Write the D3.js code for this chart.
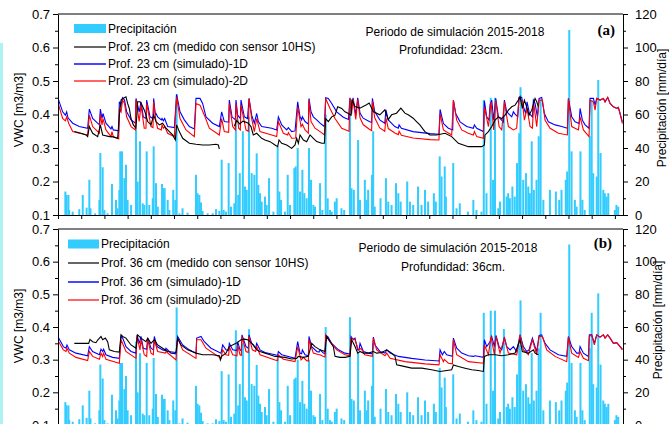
<!DOCTYPE html>
<html><head><meta charset="utf-8">
<script src="https://cdn.jsdelivr.net/npm/d3@7"></script>
<style>body{margin:0;background:#fff}svg{display:block;font-family:"Liberation Sans",Arial,sans-serif}</style>
</head><body><svg id="c" width="669" height="424"></svg>
<script>
// ---------- DATA (day index from start of 2015, values) ----------
const vwcTicks = [0.1,0.2,0.3,0.4,0.5,0.6,0.7];
const precipTicks = [0,20,40,60,80,100,120];
const dayTicks = d3.range(0, 1441, 60);

const precip = [[19,14],[22,12],[27,12],[29,3],[38,2],[55,3.5],[64,12],[74,4.4],[81,21],[84,4],[96,1],[107,9],[109.5,37],[115.5,28.5],[120,3],[128,1],[139.6,18.5],[150,9],[154,4],[158.6,15],[161,38],[165.5,38],[171.5,22],[175.8,30],[180,9],[189,6],[201.7,51],[206,20],[212,44],[219,7],[223,6],[229.3,38],[236,6],[245,10],[247.4,41],[253.4,19],[258,5],[269,18.5],[272.4,16],[275.8,16],[283.6,9],[288,3],[298,15],[303.4,9],[306.8,72],[314,1],[322,4],[335,1.4],[356.8,24],[361,13],[365.5,12],[369.8,7.5],[374,2.4],[387,1],[400,1],[408.6,3.5],[417.2,2.4],[423.2,33],[428.4,3],[434.4,2],[441.3,31],[447.3,5],[456,7],[460,58],[466,12],[470,25],[478,50],[483.6,17],[488,15],[494,58.7],[500.8,25],[507.7,24],[513.8,36.8],[518,18],[522.4,13],[526.7,8],[535.3,11],[539.6,6],[545.7,22],[557,2],[568,40.8],[572.4,14],[576.7,9],[587,2],[594,24],[600,6],[611.2,28],[614.6,29],[619.8,40],[625.8,14],[631.9,27],[637,13],[643,10],[649,40],[654.3,21],[660.3,6],[664.6,5],[677.6,19],[683.6,3],[692.2,60],[697.4,10],[703.4,3],[708,2],[716,8],[720.6,10],[733,4],[740,3],[755,66],[759,16],[765,15],[776,44.8],[781,9],[793.5,21],[798,9],[802,15],[812,24],[815,50],[819,5],[834,10],[848,22],[854,8],[862.5,6],[874,19],[880,13],[886,8],[903,20],[910,8],[918.5,6],[931,17],[940,6],[949,15],[957,8],[972,13],[977,8],[987,35],[991.8,23],[1000,29],[1003,11],[1022,31],[1030.6,4],[1039,7],[1060,2],[1074,9],[1082,3],[1095,2],[1101,68.7],[1108,13],[1119,70],[1125,21],[1130,70],[1138.5,4],[1143,8],[1153,58.8],[1160,11],[1164,13],[1168.5,10],[1175,17],[1181,11],[1187,31],[1192.6,48.8],[1196,76.3],[1203,21],[1210,25],[1216,17],[1220,13],[1225,44],[1230.5,15],[1237.4,21],[1243,47],[1248,68.7],[1255,9],[1272,15],[1287.4,14],[1296,9],[1302,15],[1313,21],[1316.7,26],[1322,110.5],[1328,38],[1336.6,9],[1341,5],[1351,38],[1356,9],[1362,3],[1375,47],[1380,68.7],[1384,25],[1393,23],[1397,80.6],[1403,37],[1410,15],[1414,13],[1418.5,11],[1423,13],[1440,3],[1444,6],[1448.6,5]];

// Depth 23 cm
const sim23_1D = [[1.7,.443],[12,.408],[19,.398],[22.4,.408],[25.8,.390],[38,.374],[55,.364],[76.7,.359],[81,.416],[89.6,.388],[107,.369],[109.5,.416],[113.8,.388],[116.3,.403],[124,.374],[137,.357],[139.6,.364],[143,.354],[157,.351],[158.6,.438],[163,.428],[167,.450],[172,.443],[177.5,.408],[189,.384],[200,.374],[201.7,.448],[210,.408],[214.6,.438],[220.6,.393],[227.5,.388],[229.3,.443],[238,.393],[245.6,.388],[247.4,.448],[251.7,.398],[253.4,.403],[257.7,.393],[267.2,.384],[269,.388],[272.4,.381],[275.8,.388],[283.6,.364],[300.8,.361],[306.8,.460],[315.5,.408],[326.7,.384],[339.6,.364],[352.5,.357],[356.8,.448],[367.2,.448],[374,.433],[382.7,.393],[400,.374],[417.2,.364],[423.2,.408],[430,.379],[441.3,.377],[443,.443],[450,.393],[458.6,.384],[460.3,.443],[464.6,.398],[471.5,.388],[473.2,.443],[481.8,.393],[490,.388],[494,.448],[500.8,.398],[507.7,.374],[513.8,.403],[518,.379],[526.7,.364],[552.6,.359],[565.5,.354],[569.8,.393],[578.4,.369],[591.4,.354],[595.7,.361],[604.3,.349],[613,.351],[619.8,.438],[625.8,.393],[630,.384],[631.9,.393],[638.8,.379],[647.4,.371],[649,.448],[654.3,.408],[660.3,.393],[669,.384],[677.6,.374],[688.8,.364],[692.2,.450],[699,.448],[707.7,.433],[720.6,.408],[737.9,.392],[751,.385],[755,.450],[759,.414],[763,.450],[770,.399],[775,.450],[781,.404],[789,.389],[805,.379],[811,.376],[813,.448],[819,.409],[832,.384],[845,.374],[848,.414],[854,.384],[871,.364],[880,.359],[882,.369],[888,.359],[918,.349],[962,.343],[985,.341],[988,.415],[996.6,.373],[1009.5,.359],[1020.7,.354],[1022.4,.443],[1028.4,.403],[1039.7,.378],[1056.9,.364],[1074,.359],[1076.7,.369],[1082.8,.359],[1100,.349],[1102.6,.441],[1108.6,.393],[1114.6,.383],[1117.2,.428],[1121.5,.443],[1126.7,.383],[1131.9,.448],[1138.8,.393],[1151.7,.378],[1154.3,.443],[1160.3,.408],[1173.3,.393],[1177.6,.408],[1181.9,.401],[1188.8,.393],[1192.2,.451],[1199,.451],[1203.4,.423],[1209.5,.403],[1212.9,.438],[1219,.403],[1226.7,.393],[1229.3,.443],[1233.6,.433],[1239.6,.393],[1244,.448],[1250.8,.451],[1257.7,.403],[1268,.378],[1285.3,.369],[1302.6,.364],[1317.2,.359],[1319.8,.448],[1328.4,.393],[1337,.378],[1347.4,.373],[1350,.418],[1356,.383],[1363,.369],[1373.2,.359],[1375.8,.448],[1384.5,.448],[1388.8,.428],[1393,.448],[1401.7,.443],[1410.3,.448],[1414.6,.438],[1421.5,.451],[1427.6,.433],[1436.2,.423],[1444.8,.418],[1449,.421],[1453.4,.403],[1459.4,.378]];

const sim23_2D = [[1.7,.428],[12,.388],[19,.381],[22.4,.393],[27.5,.374],[38,.349],[55,.344],[76.7,.339],[81,.398],[89.6,.364],[107,.344],[109.5,.403],[113.8,.369],[116.3,.388],[124,.354],[137,.334],[139.6,.349],[143,.334],[157,.327],[158.6,.418],[163,.408],[167,.443],[172,.433],[177.5,.393],[189,.364],[200,.354],[201.7,.443],[210,.379],[214.6,.428],[223,.359],[227.5,.359],[229.3,.433],[240.5,.364],[245.6,.361],[247.4,.438],[253.4,.379],[257.7,.359],[267.2,.354],[269,.369],[272.4,.359],[275.8,.364],[283.6,.344],[300.8,.334],[306.8,.453],[315.5,.388],[331,.354],[352.5,.334],[356.8,.433],[367.2,.428],[378.4,.398],[391.3,.359],[417.2,.339],[423.2,.388],[430,.349],[441.3,.347],[443,.433],[451.7,.364],[458.6,.354],[460.3,.433],[467.2,.359],[471.5,.354],[473.2,.428],[486,.354],[492,.350],[494,.448],[500.8,.388],[507.7,.349],[513.8,.388],[522.4,.349],[552.6,.339],[565.5,.334],[569.8,.379],[582.7,.344],[594,.339],[595.7,.346],[604.3,.329],[614.6,.330],[619.8,.423],[628.4,.364],[631.9,.371],[638.8,.354],[647.4,.344],[649,.443],[654.3,.379],[664.6,.359],[677.6,.349],[688.8,.339],[692.2,.448],[703.4,.418],[716.3,.388],[733.6,.359],[752.5,.350],[755,.448],[759,.400],[763,.445],[770,.385],[775,.445],[781,.390],[789,.370],[805,.356],[811,.352],[813,.440],[819,.390],[832,.360],[845,.350],[848,.390],[854,.358],[871,.345],[880,.340],[882,.350],[888,.338],[918,.330],[962,.325],[985,.324],[988,.403],[996.6,.354],[1018,.339],[1022.4,.443],[1031,.383],[1044,.354],[1061,.344],[1074,.339],[1076.7,.349],[1082.8,.334],[1100,.329],[1102.6,.423],[1113,.364],[1119.8,.438],[1126.7,.354],[1131.9,.443],[1140.5,.364],[1147.4,.354],[1154.3,.438],[1164.6,.364],[1177.6,.354],[1186,.359],[1192.2,.448],[1200.8,.438],[1206,.383],[1212.9,.418],[1220.7,.364],[1226.7,.359],[1230.2,.433],[1237.9,.364],[1244,.443],[1252.6,.443],[1259.5,.383],[1272.4,.359],[1294,.344],[1317.2,.339],[1319.8,.448],[1328.4,.364],[1345.7,.354],[1350,.393],[1358.6,.354],[1373.2,.334],[1375.8,.443],[1384.5,.438],[1388.8,.413],[1393,.448],[1401.7,.443],[1410.3,.448],[1414.6,.438],[1421.5,.451],[1427.6,.433],[1436.2,.423],[1444.8,.418],[1449,.421],[1453.4,.403],[1459.4,.373]];

const meas23 = [[42.2,.349],[59.5,.344],[72.4,.339],[76.7,.334],[81,.364],[89.6,.344],[102.6,.334],[109.5,.369],[115.5,.339],[132.7,.334],[139.6,.334],[154.3,.329],[158.6,.398],[163,.443],[167.2,.448],[171.5,.450],[175.8,.453],[180,.433],[184.4,.418],[188.8,.388],[194.8,.369],[201.7,.359],[206,.438],[212,.438],[217.2,.428],[223.2,.413],[227.5,.398],[231.9,.379],[240.5,.369],[247.4,.398],[253.4,.379],[262,.369],[270.6,.374],[279.3,.359],[287.9,.349],[296.5,.339],[303.4,.324],[306.8,.369],[313.7,.349],[322.4,.329],[339.6,.314],[356.8,.311],[374,.309],[391.3,.309],[408.6,.311],[414.6,.309],[417.2,.297],null,[456,.365],[462,.382],[470,.372],[478,.380],[483.6,.378],[492.2,.374],[499,.364],[505,.339],[513.8,.344],[526.7,.329],[535.3,.324],[548.3,.319],[561.2,.309],[568,.304],[571.5,.324],[578.4,.314],[591.4,.309],[604.3,.299],[613,.309],[617.2,.329],[621.5,.314],[625.8,.339],[634.5,.324],[643,.319],[651.7,.339],[660.3,.329],[669,.319],[681.9,.314],[688.8,.314],[692.2,.388],[699,.379],[707.7,.393],[716.3,.398],[723.2,.423],[733.6,.418],[742.2,.408],[750.8,.403],[757.7,.398],[760,.445],[767.7,.424],[780.6,.419],[797.8,.429],[804.7,.434],[815,.409],[832.3,.399],[845.2,.414],[853.9,.384],[862.5,.399],[875.4,.404],[886.6,.419],[897,.404],[905.6,.399],[918.5,.389],[927.1,.379],[935.7,.369],[948.7,.349],[961.6,.339],[978.8,.339],[1000.9,.344],[1018,.334],[1035.3,.314],[1048.3,.309],[1061.2,.304],[1078.4,.304],[1095.7,.304],[1102.6,.309],[1104.3,.339],[1113,.349],[1121.5,.364],[1130.2,.383],[1138.8,.393],[1147.4,.388],[1156,.398],[1164.6,.413],[1173.3,.423],[1181.9,.428],[1190.5,.443],[1194.8,.453],[1200.8,.418],[1206,.443],[1212,.423],[1218,.398],[1225,.413],[1233.6,.448],[1238,.438],[1242.2,.423]];

// Depth 36 cm
const sim36_1D = [[1.7,.366],[13.8,.340],[20.7,.335],[23.2,.345],[29.3,.330],[46.5,.320],[76.7,.312],[81,.340],[89.6,.325],[107,.315],[111.2,.332],[115.5,.325],[118,.332],[124,.315],[141.3,.307],[158.6,.304],[163,.371],[167.2,.366],[175.8,.340],[188.8,.325],[201.7,.320],[204.3,.376],[210.3,.350],[214.6,.371],[220.6,.335],[229.3,.332],[231.9,.366],[240.5,.335],[246.5,.330],[249.1,.371],[256,.340],[270.6,.330],[277.5,.328],[279.3,.335],[292.2,.320],[305.1,.318],[309.4,.371],[322.4,.345],[339.6,.330],[356.8,.320],[358.6,.366],[369.8,.371],[378.4,.355],[395.6,.335],[421.5,.320],[425.8,.345],[434.4,.330],[441.3,.328],[443,.350],[451.7,.330],[462.9,.328],[464.6,.355],[470.6,.330],[474,.328],[475.8,.376],[486.1,.340],[492.2,.335],[494,.376],[500.8,.350],[511.2,.335],[513.8,.350],[522.4,.330],[535.3,.322],[561.2,.315],[568,.313],[569.8,.325],[578.4,.315],[613,.304],[619.8,.355],[625.8,.320],[630,.318],[631.9,.330],[638.8,.315],[647.4,.312],[649,.371],[656,.340],[669,.325],[675,.323],[677.6,.330],[686.2,.320],[690.5,.318],[692.2,.373],[697.4,.371],[707.7,.350],[725,.330],[742.2,.320],[755.1,.317],[757.7,.371],[763.8,.361],[768,.366],[775,.330],[778.4,.330],[781,.350],[789.6,.325],[802.5,.320],[812.9,.318],[815.5,.369],[819.8,.345],[832.7,.325],[845.6,.320],[850,.330],[858.6,.320],[880.1,.310],[914.6,.304],[949,.299],[985.3,.296],[988,.330],[994,.315],[999,.325],[1005,.315],[1019.8,.310],[1022.4,.366],[1031,.335],[1044,.320],[1061.2,.312],[1074,.310],[1078.4,.312],[1100,.307],[1102.6,.361],[1108.6,.340],[1117.2,.355],[1121.5,.371],[1128.4,.340],[1132.7,.374],[1140.5,.340],[1147.4,.330],[1154.3,.369],[1160.3,.340],[1169,.330],[1177.6,.340],[1186.2,.325],[1194.8,.376],[1203.4,.340],[1212,.325],[1218,.330],[1226.7,.366],[1233.6,.340],[1237.9,.325],[1244,.374],[1250.8,.376],[1259.5,.350],[1272.4,.330],[1294,.315],[1315.5,.310],[1319.8,.371],[1328.4,.340],[1341.4,.320],[1347.4,.320],[1350,.340],[1358.6,.320],[1371.5,.310],[1374,.376],[1380,.376],[1387,.350],[1393,.376],[1401.7,.369],[1410.3,.376],[1414.6,.366],[1421.5,.376],[1427.6,.366],[1436.2,.350],[1444.8,.352],[1453.4,.340],[1459.4,.332]];

const sim36_2D = [[1.7,.355],[13.8,.330],[20.7,.325],[23.2,.335],[29.3,.320],[46.5,.307],[76.7,.297],[81,.325],[89.6,.310],[107,.301],[111.2,.320],[115.5,.310],[118,.320],[124,.301],[158.6,.289],[163,.361],[175.8,.325],[201.7,.304],[204.3,.371],[212,.330],[214.6,.361],[223,.315],[229.3,.310],[231.9,.361],[240.5,.320],[246.5,.315],[249.1,.361],[257.7,.325],[277.5,.320],[279.3,.325],[305.1,.299],[309.4,.366],[322.4,.330],[356.8,.304],[358.6,.361],[369.8,.361],[382.7,.335],[421.5,.304],[425.8,.330],[434.4,.315],[441.3,.313],[443,.340],[451.7,.315],[462.9,.312],[464.6,.345],[470.6,.315],[474,.313],[475.8,.371],[486.1,.325],[492,.322],[494,.371],[502.5,.330],[511,.325],[513.8,.340],[522.4,.315],[561.2,.299],[568,.297],[569.8,.315],[582.7,.301],[613,.294],[619.8,.340],[628.4,.299],[630,.301],[634.5,.307],[643,.297],[647.4,.296],[649,.361],[660.3,.320],[675,.315],[677.6,.315],[686.2,.310],[690.5,.308],[692.2,.376],[703.4,.355],[720.6,.330],[742.2,.315],[755.1,.312],[757.7,.366],[768,.361],[776.7,.330],[778.4,.330],[783.6,.335],[793,.315],[812.9,.310],[815.5,.366],[824,.330],[845.6,.312],[850,.320],[858.6,.304],[897.4,.294],[949,.287],[985.3,.284],[988,.315],[996.6,.294],[999,.301],[1009.5,.289],[1019.8,.287],[1022.4,.361],[1031,.315],[1061.2,.294],[1100,.289],[1102.6,.345],[1113,.315],[1119.8,.371],[1128.4,.315],[1132.7,.371],[1143,.320],[1154.3,.366],[1164.6,.320],[1186.2,.315],[1194.8,.376],[1203.4,.330],[1216.4,.315],[1226.7,.361],[1237.9,.315],[1244,.371],[1252.6,.371],[1263.8,.330],[1285.3,.310],[1315.5,.294],[1319.8,.369],[1328.4,.320],[1345.7,.307],[1350,.325],[1358.6,.304],[1371.5,.297],[1374,.371],[1380,.376],[1387,.345],[1393,.376],[1401.7,.369],[1410.3,.376],[1414.6,.366],[1421.5,.376],[1427.6,.366],[1436.2,.350],[1444.8,.352],[1453.4,.340],[1459.4,.330]];

const meas36 = [[42.2,.350],[63.8,.350],[79.3,.350],[82.7,.362],[89.6,.355],[98.2,.352],[102.6,.360],[111.2,.371],[115.5,.361],[122.4,.366],[128.4,.355],[132.7,.330],[145.7,.325],[158.6,.323],[163,.376],[167.2,.371],[175.8,.366],[188.8,.345],[201.7,.335],[206,.376],[214.6,.366],[227.5,.355],[231.9,.366],[240.5,.350],[249.1,.361],[257.7,.345],[270.6,.335],[283.6,.325],[305.1,.322],[309.4,.366],[318,.345],[335.3,.330],[356.8,.320],[374,.315],[400,.315],[417.2,.312],[419.8,.299],[423,.310],[434.4,.320],[443,.340],[460.3,.350],[473.2,.361],[481.8,.363],[490.5,.361],[496.5,.355],[505.2,.345],[513.8,.330],[522.4,.325],[535.3,.320],[548.3,.315],[561.2,.310],[587,.307],[604.3,.302],[617.2,.304],[621.5,.310],[634.5,.307],[647.4,.310],[656,.350],[664.6,.340],[677.6,.330],[690.5,.325],[694.8,.371],[703.4,.355],[712,.340],[716.3,.310],[729,.307],[742.2,.307],[755,.310],[759.4,.361],[768,.340],[775,.320],[781,.325],[789.6,.320],[802.5,.320],[815.5,.325],[824,.320],[837,.322],[850,.330],[862.9,.320],[871.5,.310],[875.8,.284],[888.7,.281],[914.6,.274],[940.5,.274],[966.3,.269],[987.9,.264],[1018,.269],[1022.4,.284],[1035.3,.279],[1052.6,.274],[1069.8,.269],[1087,.267],[1100,.264],[1102.6,.310],[1113,.315],[1130.2,.315],[1147.4,.312],[1164.6,.315],[1181.9,.320],[1194.8,.361],[1200.8,.325],[1216.4,.320],[1229.3,.330],[1233.6,.320],[1242.2,.315]];

const legend23 = ["Precipitación","Prof. 23 cm (medido con sensor 10HS)","Prof. 23 cm (simulado)-1D","Prof. 23 cm (simulado)-2D"];
const legend36 = ["Precipitación","Prof. 36 cm (medido con sensor 10HS)","Prof. 36 cm (simulado)-1D","Prof. 36 cm (simulado)-2D"];

// ---------- DRAW ----------
const svg = d3.select("#c");
const x = d3.scaleLinear().domain([0,1461]).range([58,623]);
const [X0, X1] = x.range();

svg.append("rect").attr("x",0).attr("y",43).attr("width",3).attr("height",381).attr("fill","#aef3f3");

function drawPanel(p){
  const yV = d3.scaleLinear().domain([0.1,0.7]).range([p.bottom,p.top]);
  const yP = d3.scaleLinear().domain([0,120]).range([p.bottom,p.top]);
  const g = svg.append("g");
  g.append("clipPath").attr("id","clip"+p.id).append("rect")
    .attr("x",X0).attr("y",p.top).attr("width",X1-X0).attr("height",p.bottom-p.top);
  const plot = g.append("g").attr("clip-path",`url(#clip${p.id})`);
  plot.selectAll("rect").data(precip).join("rect")
    .attr("x",d=>x(d[0])-1).attr("width",2)
    .attr("y",d=>yP(d[1])).attr("height",d=>yP(0)-yP(d[1]))
    .attr("fill","#33ccff");
  const line = d3.line().defined(d=>d!==null).x(d=>x(d[0])).y(d=>yV(d[1]));
  plot.append("path").datum(p.s1D).attr("d",line).attr("fill","none").attr("stroke","#0000ff").attr("stroke-width",1.1);
  plot.append("path").datum(p.s2D).attr("d",line).attr("fill","none").attr("stroke","#ff0000").attr("stroke-width",1.1);
  plot.append("path").datum(p.meas).attr("d",line).attr("fill","none").attr("stroke","#000").attr("stroke-width",1.1);

  // axes
  const fs = "13px";
  const la = g.append("g").attr("transform",`translate(${X0},0)`)
    .call(d3.axisLeft(yV).tickValues(vwcTicks).tickFormat(d3.format(".1f")).tickSize(5).tickSizeOuter(0).tickPadding(3));
  g.append("g").attr("transform",`translate(${X0},0)`)
    .call(d3.axisLeft(yV).tickValues(vwcTicks.slice(0,-1).map(v=>v+0.05)).tickFormat("").tickSize(3).tickSizeOuter(0))
    .select(".domain").remove();
  const ra = g.append("g").attr("transform",`translate(${X1},0)`)
    .call(d3.axisRight(yP).tickValues(precipTicks).tickSize(5).tickSizeOuter(0).tickPadding(7));
  g.append("g").attr("transform",`translate(${X1},0)`)
    .call(d3.axisRight(yP).tickValues(precipTicks.slice(0,-1).map(v=>v+10)).tickFormat("").tickSize(3).tickSizeOuter(0))
    .select(".domain").remove();
  g.append("g").attr("transform",`translate(0,${p.bottom})`)
    .call(d3.axisBottom(x).tickValues(dayTicks).tickFormat("").tickSize(4).tickSizeOuter(0));
  g.append("line").attr("x1",X0).attr("x2",X1).attr("y1",p.top).attr("y2",p.top).attr("stroke","#000");
  [la,ra].forEach(a=>a.selectAll("text").attr("font-size",fs).attr("font-family","Liberation Sans, Arial, sans-serif").attr("fill","#000"));
  g.selectAll(".domain, .tick line").attr("stroke","#000");

  // axis titles
  g.append("text").attr("transform",`translate(${p.lt[0]},${p.lt[1]}) rotate(-90)`)
    .attr("text-anchor","middle").attr("dominant-baseline","central").attr("font-size","12px").text("VWC [m3/m3]");
  g.append("text").attr("transform",`translate(${p.rt[0]},${p.rt[1]}) rotate(-90)`)
    .attr("text-anchor","middle").attr("dominant-baseline","central").attr("font-size","12px").text("Precipitación [mm/día]");

  // legend
  const L = p.leg;
  g.append("rect").attr("x",L.x0).attr("y",L.ys[0]-4.5).attr("width",L.x1-L.x0).attr("height",9).attr("fill","#33ccff");
  [["#000",1.2],["#3333ff",1.8],["#ff0000",1.2]].forEach((c,i)=>{
    g.append("line").attr("x1",L.x0).attr("x2",L.x1).attr("y1",L.ys[i+1]).attr("y2",L.ys[i+1]).attr("stroke",c[0]).attr("stroke-width",c[1]);
  });
  p.labels.forEach((t,i)=>{
    g.append("text").attr("x",L.tx).attr("y",L.ys[i]).attr("dominant-baseline","central").attr("font-size","12px").text(t);
  });

  // annotations
  g.append("text").attr("x",p.a1[0]).attr("y",p.a1[1]).attr("text-anchor","middle").attr("font-size","12px").text("Periodo de simulación 2015-2018");
  g.append("text").attr("x",p.a2[0]).attr("y",p.a2[1]).attr("text-anchor","middle").attr("font-size","12px").text(p.depthText);
  g.append("text").attr("x",p.tag[0]).attr("y",p.tag[1]).attr("text-anchor","end")
    .attr("font-family","Liberation Serif, Times New Roman, serif").attr("font-weight","bold").attr("font-size","15px").text(p.tagText);
}

drawPanel({id:"a", top:14, bottom:215, s1D:sim23_1D, s2D:sim23_2D, meas:meas23,
  lt:[19,110], rt:[662,108],
  leg:{x0:74,x1:106,tx:108,ys:[28.5,47,64,81]}, labels:legend23,
  a1:[455,36], a2:[451,54], depthText:"Profundidad: 23cm.", tag:[615,35], tagText:"(a)"});
drawPanel({id:"b", top:229, bottom:425, s1D:sim36_1D, s2D:sim36_2D, meas:meas36,
  lt:[19,326], rt:[658,320],
  leg:{x0:68,x1:99,tx:101,ys:[244,263,282,300]}, labels:legend36,
  a1:[448,252], a2:[453,271], depthText:"Profundidad: 36cm.", tag:[612,248], tagText:"(b)"});
</script></body></html>
